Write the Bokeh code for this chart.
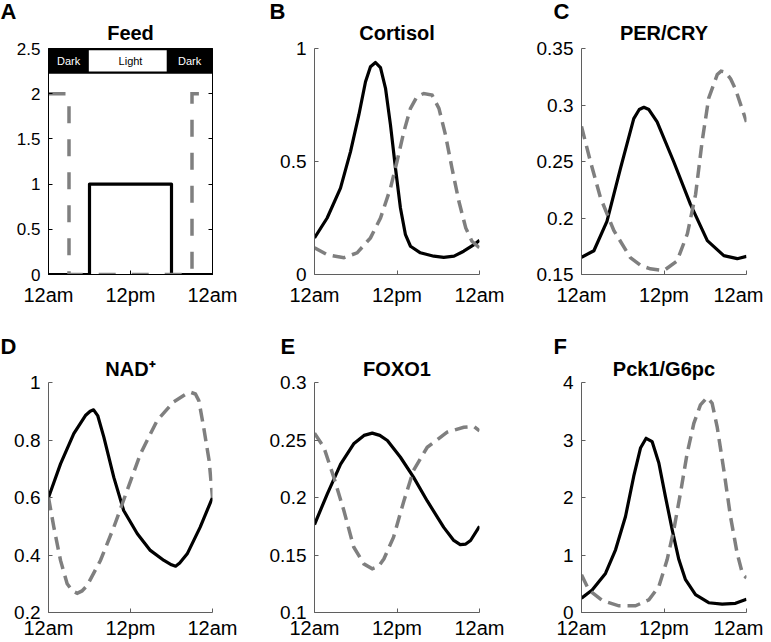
from bokeh.plotting import figure
from bokeh.layouts import row, column
from bokeh.models import Label, LinearAxis, FixedTicker, Range1d, Title
from bokeh.embed import file_html
from bokeh.resources import INLINE

# ---------------- data ----------------
x_ticks = [0, 12, 24]
x_tick_labels = ["12am", "12pm", "12am"]

# A: Feed
feed_solid_t = [0, 6, 6, 18, 18, 24]
feed_solid_v = [0, 0, 1, 1, 0, 0]
feed_dash_t = [0, 3, 3, 21, 21, 24]
feed_dash_v = [2, 2, 0, 0, 2, 2]
light_start, light_end = 5.9, 17.3
band_bottom, band_top = 2.22, 2.5
band_labels = ["Dark", "Light", "Dark"]
feed_yticks = [0, 0.5, 1, 1.5, 2, 2.5]
feed_ylabels = ["0", "0.5", "1", "1.5", "2", "2.5"]

# B: Cortisol
cort_solid_t = [0, 1.84, 3.78, 5.24, 6.45, 7.42, 8.14, 8.87, 9.6, 10.33, 11.05, 11.78, 12.5, 13.23, 13.96, 15.4, 17.36, 18.8, 20.3, 21.7, 23.2, 24]
cort_solid_v = [0.162, 0.25, 0.382, 0.544, 0.706, 0.853, 0.919, 0.938, 0.915, 0.824, 0.662, 0.47, 0.294, 0.176, 0.125, 0.096, 0.081, 0.076, 0.081, 0.103, 0.132, 0.151]
cort_dash_t = [0, 1.84, 4.27, 6.2, 8.14, 9.6, 11.05, 12.0, 13.0, 13.96, 14.9, 15.9, 17.1, 18.1, 19.05, 20.0, 21.0, 22.0, 22.9, 24]
cort_dash_v = [0.118, 0.088, 0.074, 0.096, 0.162, 0.25, 0.382, 0.5, 0.632, 0.735, 0.787, 0.801, 0.794, 0.735, 0.618, 0.47, 0.324, 0.206, 0.147, 0.118]
cort_yticks = [0, 0.5, 1]
cort_ylabels = ["0", "0.5", "1"]

# C: PER/CRY
per_solid_t = [0, 1.8, 3.7, 5.67, 7.6, 8.4, 9.07, 9.8, 11.0, 13.4, 15.85, 18.3, 20.7, 22.65, 24]
per_solid_v = [0.1652, 0.171, 0.197, 0.244, 0.288, 0.296, 0.298, 0.296, 0.285, 0.25, 0.212, 0.18, 0.1667, 0.164, 0.166]
per_dash_t = [0, 1.3, 2.76, 4.7, 7.1, 8.6, 10.0, 12.0, 13.9, 15.4, 16.6, 17.55, 18.5, 19.75, 20.3, 20.95, 21.7, 22.4, 24]
per_dash_v = [0.281, 0.25, 0.218, 0.189, 0.165, 0.158, 0.155, 0.1535, 0.162, 0.186, 0.221, 0.268, 0.306, 0.327, 0.330, 0.329, 0.323, 0.314, 0.285]
per_yticks = [0.15, 0.2, 0.25, 0.3, 0.35]
per_ylabels = ["0.15", "0.2", "0.25", "0.3", "0.35"]

# D: NAD+
nad_solid_t = [0, 1.76, 3.7, 5.4, 6.1, 6.6, 7.2, 8.1, 9.56, 11.0, 13.0, 14.9, 16.9, 18.0, 18.6, 19.2, 20.3, 22.2, 24]
nad_solid_v = [0.6, 0.717, 0.822, 0.885, 0.9, 0.905, 0.885, 0.81, 0.67, 0.555, 0.474, 0.416, 0.381, 0.366, 0.361, 0.372, 0.404, 0.497, 0.6]
nad_dash_t = [0, 0.78, 1.76, 2.73, 3.5, 4.2, 4.9, 5.66, 7.6, 9.56, 11.5, 13.46, 15.9, 18.3, 20.0, 20.8, 21.5, 22.0, 22.7, 23.5, 24]
nad_dash_v = [0.6, 0.497, 0.381, 0.3, 0.275, 0.267, 0.275, 0.294, 0.381, 0.497, 0.624, 0.752, 0.868, 0.932, 0.958, 0.966, 0.96, 0.937, 0.845, 0.729, 0.6]
nad_yticks = [0.2, 0.4, 0.6, 0.8, 1]
nad_ylabels = ["0.2", "0.4", "0.6", "0.8", "1"]

# E: FOXO1
foxo_solid_t = [0, 1.85, 3.8, 5.7, 7.2, 8.4, 9.5, 10.6, 12.5, 14.4, 16.4, 18.8, 20.2, 21.2, 22.0, 22.7, 24]
foxo_solid_v = [0.1765, 0.203, 0.229, 0.2467, 0.254, 0.256, 0.254, 0.2496, 0.235, 0.2177, 0.197, 0.174, 0.163, 0.159, 0.1595, 0.1626, 0.175]
foxo_dash_t = [0, 1.36, 2.8, 4.27, 5.7, 7.17, 8.4, 9.3, 10.1, 11.5, 13.0, 14.4, 16.4, 19.3, 21.7, 23.2, 24]
foxo_dash_v = [0.256, 0.2437, 0.2177, 0.1887, 0.157, 0.1423, 0.138, 0.14, 0.1467, 0.1655, 0.197, 0.2235, 0.2437, 0.2568, 0.2611, 0.2617, 0.258]
foxo_yticks = [0.1, 0.15, 0.2, 0.25, 0.3]
foxo_ylabels = ["0.1", "0.15", "0.2", "0.25", "0.3"]

# F: Pck1/G6pc
pck_solid_t = [0, 1.55, 3.49, 4.95, 6.4, 7.6, 8.58, 9.4, 10.28, 11.25, 12.2, 13.19, 14.16, 15.13, 16.58, 18.5, 20.46, 22.4, 24]
pck_solid_v = [0.25, 0.39, 0.68, 1.09, 1.67, 2.37, 2.86, 3.03, 2.97, 2.6, 2.02, 1.44, 0.92, 0.57, 0.31, 0.17, 0.145, 0.16, 0.23]
pck_dash_t = [0, 1.07, 3.0, 5.43, 7.85, 9.8, 11.25, 12.46, 13.43, 14.4, 15.37, 16.34, 17.3, 18.28, 19.0, 19.73, 20.7, 21.67, 22.64, 23.4, 24]
pck_dash_v = [0.655, 0.39, 0.21, 0.116, 0.116, 0.22, 0.45, 0.92, 1.44, 2.08, 2.77, 3.29, 3.61, 3.74, 3.64, 3.23, 2.48, 1.67, 1.03, 0.68, 0.6]
pck_yticks = [0, 1, 2, 3, 4]
pck_ylabels = ["0", "1", "2", "3", "4"]

# ---------------- style ----------------
FONT = "Liberation Sans"
SOLID_COLOR = "black"
DASH_COLOR = "#7f7f7f"
AXIS_GREY = "#5f5f5f"

# column geometry: (width, left border, right border)
cols = [(266, 48, 54), (254, 48, 41), (243, 61, 17)]
# row geometry: (height, top border, bottom border)
rows = [(308, 46, 34), (334, 74, 30)]
letter_dx = [[-48, -45, -28], [-48, -34, -28]]
title_standoff = [5, 2]
letter_standoff = [-8, -5]


def make_panel(ci, ri, letter, title, ymin, ymax, yticks, ylabels,
               st, sv, dt, dv, boxed=False, dash="13 7", ylab_size="19px",
               xstandoff=9):
    w, bl, br = cols[ci]
    h, bt, bb = rows[ri]
    p = figure(width=w, height=h, output_backend="svg", toolbar_location=None,
               x_range=Range1d(0, 24), y_range=Range1d(ymin, ymax),
               min_border_left=bl, min_border_right=br,
               min_border_top=bt, min_border_bottom=bb)
    p.xgrid.visible = False
    p.ygrid.visible = False
    p.outline_line_color = "black" if boxed else None
    axis_color = "black" if boxed else AXIS_GREY

    p.xaxis.ticker = FixedTicker(ticks=x_ticks)
    p.xaxis.major_label_overrides = {t: l for t, l in zip(x_ticks, x_tick_labels)}
    p.yaxis.ticker = FixedTicker(ticks=yticks)
    p.yaxis.major_label_overrides = {t: l for t, l in zip(yticks, ylabels)}
    for ax in [p.xaxis[0], p.yaxis[0]]:
        ax.axis_line_color = axis_color
        ax.axis_line_width = 1
        ax.major_tick_line_color = axis_color
        ax.major_tick_in = 4
        ax.major_tick_out = 0
        ax.minor_tick_line_color = None
        ax.major_label_text_font = FONT
        ax.major_label_text_color = "black"
    p.xaxis.major_label_text_font_size = "20px"
    p.xaxis.major_label_standoff = xstandoff
    p.yaxis.major_label_text_font_size = ylab_size
    p.yaxis.major_label_standoff = 8

    if boxed:
        rax = LinearAxis(ticker=FixedTicker(ticks=yticks),
                         major_label_overrides={t: "" for t in yticks},
                         axis_line_color="black", major_tick_line_color="black",
                         major_tick_in=4, major_tick_out=0, minor_tick_line_color=None,
                         major_label_standoff=0)
        p.add_layout(rax, "right")

    p.line(st, sv, line_color=SOLID_COLOR, line_width=3.2, line_join="round")
    p.line(dt, dv, line_color=DASH_COLOR, line_width=3.5, line_dash=dash, line_join="miter")

    main_title = Title(text=title, align="center", vertical_align="top", text_font=FONT,
                       text_font_style="bold", text_font_size="20px",
                       text_color="black", standoff=title_standoff[ri])
    letter_title = Title(text=letter, align="left", offset=letter_dx[ri][ci],
                         text_font=FONT, text_font_style="bold", text_font_size="22px",
                         text_color="black", standoff=letter_standoff[ri])
    p.title = None
    p.above = [main_title, letter_title]
    return p


pA = make_panel(0, 0, "A", "Feed", 0, 2.5, feed_yticks, feed_ylabels,
                feed_solid_t, feed_solid_v, feed_dash_t, feed_dash_v,
                boxed=True, dash="17 16", ylab_size="17px")
# light/dark band
pA.quad(left=[0], right=[24], bottom=[band_bottom], top=[band_top],
        fill_color="black", line_color=None)
pA.quad(left=[light_start], right=[light_end], bottom=[band_bottom + 0.025],
        top=[band_top - 0.02], fill_color="white", line_color=None)
band_centers = [light_start / 2, 12, (light_end + 24) / 2]
band_colors = ["white", "black", "white"]
for bx, bt_, bc in zip(band_centers, band_labels, band_colors):
    pA.add_layout(Label(x=bx, y=(band_bottom + band_top) / 2, text=bt_,
                        text_font=FONT, text_font_size="11px", text_align="center",
                        text_baseline="middle", text_color=bc))

pB = make_panel(1, 0, "B", "Cortisol", 0, 1, cort_yticks, cort_ylabels,
                cort_solid_t, cort_solid_v, cort_dash_t, cort_dash_v)
pC = make_panel(2, 0, "C", "PER/CRY", 0.15, 0.35, per_yticks, per_ylabels,
                per_solid_t, per_solid_v, per_dash_t, per_dash_v)
pD = make_panel(0, 1, "D", "NAD\u207a", 0.2, 1, nad_yticks, nad_ylabels,
                nad_solid_t, nad_solid_v, nad_dash_t, nad_dash_v, xstandoff=4)
pE = make_panel(1, 1, "E", "FOXO1", 0.1, 0.3, foxo_yticks, foxo_ylabels,
                foxo_solid_t, foxo_solid_v, foxo_dash_t, foxo_dash_v, xstandoff=4)
pF = make_panel(2, 1, "F", "Pck1/G6pc", 0, 4, pck_yticks, pck_ylabels,
                pck_solid_t, pck_solid_v, pck_dash_t, pck_dash_v, xstandoff=4)

layout = column(row(pA, pB, pC), row(pD, pE, pF))

open("out.html", "w").write(file_html(layout, INLINE))
